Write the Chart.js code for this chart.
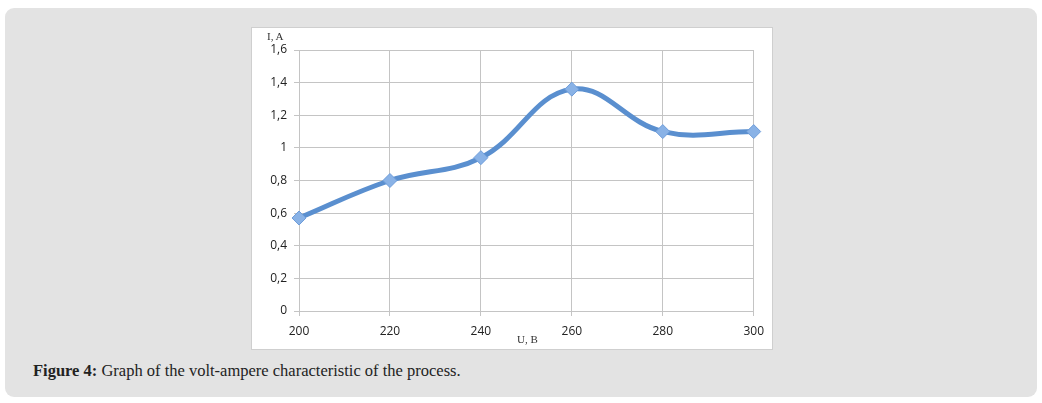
<!DOCTYPE html>
<html>
<head>
<meta charset="utf-8">
<script src="https://cdn.jsdelivr.net/npm/chart.js@4"></script>
<style>
    body { margin: 0; background: #fff; width: 1042px; height: 403px; position: relative; overflow: hidden; }
    .panel { position: absolute; left: 5px; top: 8px; width: 1032px; height: 389px; background: #e3e3e3; border-radius: 9px; }
    .chart-box { position: absolute; left: 251px; top: 27px; width: 520px; height: 321px; background: #fff; border: 1px solid #cfcfcf; }
    .chart-box canvas { position: absolute; left: 0; top: 0; }
    .axis-name { position: absolute; font-family: "Liberation Serif", "DejaVu Serif", serif; font-size: 11px; color: #333; }
    .caption { position: absolute; left: 33px; top: 361px; font-family: "Liberation Serif", "DejaVu Serif", serif; font-size: 16.5px; color: #222; }
</style>
</head>
<body>
<div class="panel"></div>
<div class="chart-box">
    <canvas id="vaChart" width="520" height="321"></canvas>
    <div class="axis-name" style="left: 15px; top: 2px;">I, A</div>
    <div class="axis-name" style="left: 265px; top: 305px;">U, B</div>
</div>
<div class="caption"><b>Figure 4:</b> Graph of the volt-ampere characteristic of the process.</div>

<script>
const voltage = [200, 220, 240, 260, 280, 300];
const current = [0.57, 0.80, 0.94, 1.36, 1.10, 1.10];
const yTicks = [0, 0.2, 0.4, 0.6, 0.8, 1, 1.2, 1.4, 1.6];

const points = voltage.map((u, i) => ({ x: u, y: current[i] }));
const tickFont = { family: '"Open Sans", "Liberation Sans", sans-serif', size: 12 };

new Chart(document.getElementById('vaChart'), {
    type: 'line',
    data: {
        datasets: [{
            data: points,
            borderColor: '#5a8fcf',
            borderWidth: 5,
            tension: 0.4,
            clip: false,
            pointStyle: 'rectRot',
            pointRadius: 7,
            pointBackgroundColor: '#89b2e6',
            pointBorderColor: '#6e9dda',
            pointBorderWidth: 1
        }]
    },
    options: {
        responsive: false,
        animation: false,
        layout: { padding: { left: 0, right: 17, top: 22, bottom: 0 } },
        plugins: {
            legend: { display: false },
            tooltip: { enabled: false }
        },
        scales: {
            x: {
                type: 'linear',
                min: 200,
                max: 300,
                afterBuildTicks: (axis) => { axis.ticks = voltage.map(v => ({ value: v })); },
                grid: { color: '#c4c4c4', lineWidth: 1, tickLength: 5 },
                border: { color: '#c4c4c4' },
                ticks: { color: '#222', font: tickFont, padding: 8, maxRotation: 0 },
                afterFit: (axis) => { axis.height = 38; }
            },
            y: {
                min: 0,
                max: 1.6,
                afterBuildTicks: (axis) => { axis.ticks = yTicks.map(v => ({ value: v })); },
                grid: { color: '#c4c4c4', lineWidth: 1, tickLength: 5 },
                border: { color: '#c4c4c4' },
                ticks: {
                    color: '#222',
                    font: tickFont,
                    padding: 7,
                    callback: (v) => String(Math.round(v * 10) / 10).replace('.', ',')
                },
                afterFit: (axis) => { axis.width = 47; }
            }
        }
    }
});
</script>
</body>
</html>
